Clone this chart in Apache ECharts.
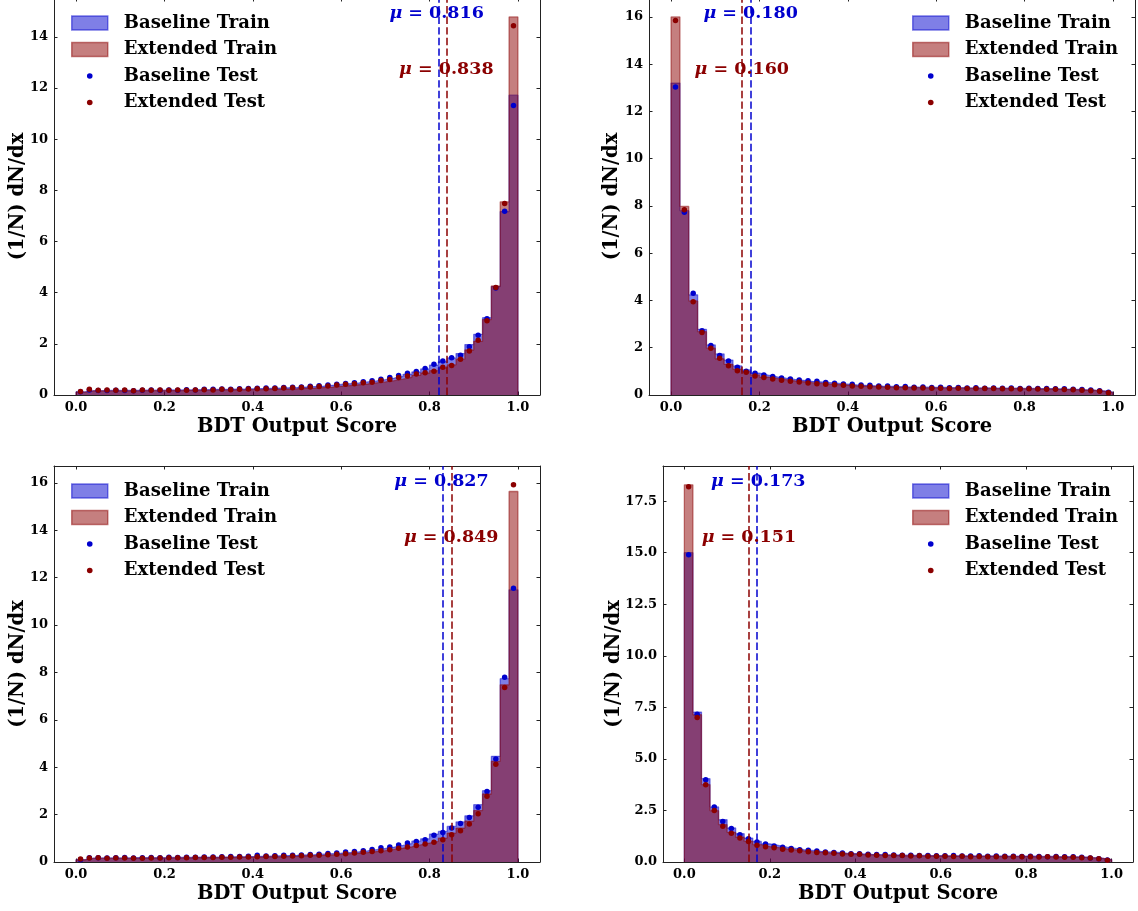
<!DOCTYPE html>
<html>
<head>
<meta charset="utf-8">
<script src="https://cdn.jsdelivr.net/npm/echarts@6/dist/echarts.min.js"></script>
<style>
html,body{margin:0;padding:0;background:#ffffff;}
#chart{width:1138px;height:911px;}
</style>
</head>
<body>
<div id="chart"></div>
<script>
// ---------------- DATA ----------------
const binEdges = [0.00,0.02,0.04,0.06,0.08,0.10,0.12,0.14,0.16,0.18,0.20,0.22,0.24,0.26,0.28,0.30,0.32,0.34,0.36,0.38,0.40,0.42,0.44,0.46,0.48,0.50,0.52,0.54,0.56,0.58,0.60,0.62,0.64,0.66,0.68,0.70,0.72,0.74,0.76,0.78,0.80,0.82,0.84,0.86,0.88,0.90,0.92,0.94,0.96,0.98,1.00];
const binCenters = [0.01,0.03,0.05,0.07,0.09,0.11,0.13,0.15,0.17,0.19,0.21,0.23,0.25,0.27,0.29,0.31,0.33,0.35,0.37,0.39,0.41,0.43,0.45,0.47,0.49,0.51,0.53,0.55,0.57,0.59,0.61,0.63,0.65,0.67,0.69,0.71,0.73,0.75,0.77,0.79,0.81,0.83,0.85,0.87,0.89,0.91,0.93,0.95,0.97,0.99];

const seriesNames = ['Baseline Train','Extended Train','Baseline Test','Extended Test'];

// Top-left panel
const tlBaseTrain = [0.12,0.17,0.17,0.18,0.18,0.18,0.18,0.19,0.19,0.19,
  0.20,0.20,0.20,0.21,0.21,0.22,0.22,0.23,0.23,0.24,
  0.25,0.26,0.27,0.28,0.29,0.31,0.33,0.35,0.38,0.41,
  0.44,0.47,0.51,0.55,0.60,0.66,0.73,0.81,0.90,1.02,
  1.17,1.30,1.45,1.62,1.97,2.37,3.02,4.24,7.17,11.72];
const tlExtTrain = [0.11,0.16,0.16,0.16,0.16,0.16,0.16,0.17,0.17,0.17,
  0.17,0.17,0.18,0.18,0.18,0.19,0.19,0.20,0.20,0.21,
  0.21,0.22,0.22,0.23,0.24,0.26,0.27,0.29,0.31,0.34,
  0.37,0.40,0.43,0.47,0.51,0.56,0.62,0.69,0.77,0.86,
  0.95,1.06,1.18,1.40,1.76,2.10,2.95,4.26,7.55,14.78];
const tlBaseTest = [0.13,0.20,0.18,0.18,0.19,0.18,0.17,0.19,0.20,0.19,
  0.20,0.19,0.21,0.20,0.22,0.22,0.23,0.22,0.24,0.25,
  0.26,0.27,0.27,0.29,0.30,0.31,0.34,0.36,0.39,0.42,
  0.45,0.48,0.52,0.56,0.62,0.68,0.76,0.85,0.92,1.04,
  1.20,1.33,1.46,1.55,1.89,2.34,2.98,4.18,7.18,11.32];
const tlExtTest = [0.14,0.22,0.19,0.20,0.19,0.20,0.17,0.20,0.19,0.20,
  0.19,0.20,0.19,0.20,0.21,0.20,0.22,0.21,0.22,0.23,
  0.24,0.24,0.25,0.27,0.28,0.29,0.31,0.33,0.35,0.39,
  0.42,0.44,0.48,0.50,0.57,0.61,0.68,0.74,0.82,0.87,
  0.93,1.08,1.15,1.40,1.72,2.14,2.90,4.20,7.49,14.43];
const tlMeans = [0.816, 0.838];
const tlYTicks = [0,2,4,6,8,10,12,14];
const tlYTickLabels = ['0','2','4','6','8','10','12','14'];

// Top-right panel
const trBaseTrain = [13.20,7.80,4.24,2.78,2.12,1.74,1.48,1.23,1.06,0.92,
  0.84,0.77,0.71,0.66,0.62,0.58,0.55,0.52,0.49,0.46,
  0.43,0.41,0.39,0.37,0.36,0.35,0.34,0.33,0.33,0.32,
  0.32,0.31,0.31,0.30,0.30,0.30,0.29,0.29,0.29,0.28,
  0.28,0.27,0.27,0.26,0.25,0.24,0.22,0.20,0.17,0.12];
const trExtTrain = [16.00,7.98,3.98,2.68,1.98,1.53,1.30,1.09,0.99,0.85,
  0.76,0.70,0.65,0.60,0.56,0.52,0.49,0.46,0.44,0.42,
  0.39,0.37,0.36,0.34,0.33,0.32,0.31,0.31,0.30,0.30,
  0.29,0.29,0.29,0.28,0.28,0.28,0.27,0.27,0.27,0.26,
  0.26,0.25,0.25,0.24,0.23,0.22,0.21,0.19,0.16,0.11];
const trBaseTest = [13.03,7.73,4.31,2.72,2.09,1.67,1.44,1.17,1.00,0.92,
  0.85,0.78,0.72,0.68,0.64,0.60,0.58,0.53,0.50,0.47,
  0.45,0.42,0.41,0.38,0.38,0.35,0.36,0.33,0.34,0.32,
  0.33,0.31,0.32,0.30,0.31,0.29,0.30,0.29,0.30,0.28,
  0.29,0.27,0.28,0.26,0.26,0.24,0.23,0.21,0.18,0.12];
const trExtTest = [15.85,7.84,3.95,2.64,1.98,1.55,1.24,1.03,0.96,0.80,
  0.74,0.68,0.62,0.58,0.55,0.51,0.48,0.46,0.43,0.41,
  0.38,0.37,0.35,0.34,0.33,0.31,0.31,0.30,0.30,0.29,
  0.29,0.28,0.29,0.28,0.27,0.27,0.27,0.26,0.26,0.25,
  0.26,0.25,0.24,0.24,0.23,0.22,0.20,0.18,0.16,0.10];
const trMeans = [0.180, 0.160];
const trYTicks = [0,2,4,6,8,10,12,14,16];
const trYTickLabels = ['0','2','4','6','8','10','12','14','16'];

// Bottom-left panel
const blBaseTrain = [0.10,0.16,0.17,0.17,0.17,0.17,0.18,0.18,0.18,0.18,
  0.19,0.19,0.19,0.20,0.20,0.21,0.21,0.22,0.22,0.23,
  0.24,0.25,0.26,0.27,0.28,0.30,0.31,0.33,0.35,0.37,
  0.40,0.43,0.47,0.52,0.57,0.63,0.70,0.78,0.88,0.98,
  1.18,1.29,1.50,1.69,1.95,2.42,3.01,4.46,7.74,11.49];
const blExtTrain = [0.09,0.15,0.15,0.15,0.15,0.15,0.16,0.16,0.16,0.16,
  0.17,0.17,0.17,0.18,0.18,0.18,0.19,0.19,0.20,0.20,
  0.21,0.22,0.22,0.23,0.24,0.26,0.27,0.28,0.30,0.32,
  0.35,0.37,0.40,0.44,0.48,0.53,0.58,0.64,0.72,0.80,
  0.87,1.01,1.22,1.43,1.72,2.17,2.87,4.25,7.48,15.64];
const blBaseTest = [0.10,0.18,0.18,0.17,0.18,0.19,0.17,0.18,0.19,0.18,
  0.20,0.19,0.20,0.20,0.21,0.21,0.22,0.23,0.23,0.24,
  0.28,0.25,0.26,0.28,0.28,0.30,0.32,0.33,0.36,0.38,
  0.42,0.44,0.48,0.53,0.60,0.63,0.72,0.80,0.87,0.94,
  1.13,1.25,1.43,1.62,1.88,2.31,2.98,4.35,7.80,11.56];
const blExtTest = [0.13,0.17,0.18,0.16,0.17,0.17,0.16,0.16,0.17,0.17,
  0.18,0.18,0.18,0.19,0.19,0.19,0.20,0.20,0.21,0.21,
  0.22,0.23,0.23,0.24,0.25,0.26,0.28,0.29,0.31,0.33,
  0.35,0.38,0.41,0.44,0.48,0.52,0.58,0.63,0.70,0.76,
  0.83,0.94,1.15,1.32,1.60,2.04,2.78,4.13,7.37,15.92];
const blMeans = [0.827, 0.849];
const blYTicks = [0,2,4,6,8,10,12,14,16];
const blYTickLabels = ['0','2','4','6','8','10','12','14','16'];

// Bottom-right panel
const brBaseTrain = [15.00,7.27,4.04,2.67,2.05,1.65,1.37,1.16,1.00,0.88,
  0.80,0.72,0.66,0.60,0.56,0.52,0.49,0.46,0.43,0.41,
  0.39,0.37,0.36,0.35,0.34,0.33,0.32,0.32,0.31,0.31,
  0.30,0.30,0.30,0.29,0.29,0.29,0.29,0.28,0.28,0.28,
  0.28,0.27,0.27,0.26,0.26,0.25,0.23,0.21,0.18,0.12];
const brExtTrain = [18.29,7.14,3.75,2.49,1.81,1.44,1.20,1.00,0.84,0.75,
  0.70,0.64,0.59,0.54,0.50,0.47,0.44,0.42,0.40,0.38,
  0.36,0.35,0.33,0.32,0.31,0.30,0.30,0.29,0.29,0.28,
  0.28,0.28,0.27,0.27,0.27,0.27,0.26,0.26,0.26,0.26,
  0.25,0.25,0.25,0.24,0.24,0.23,0.22,0.20,0.17,0.11];
const brBaseTest = [14.90,7.17,3.99,2.67,1.97,1.62,1.32,1.13,0.97,0.87,
  0.78,0.71,0.65,0.59,0.57,0.53,0.48,0.46,0.44,0.40,
  0.40,0.37,0.36,0.36,0.34,0.33,0.33,0.31,0.31,0.30,
  0.30,0.31,0.29,0.29,0.30,0.28,0.29,0.28,0.28,0.27,
  0.28,0.27,0.26,0.27,0.26,0.25,0.23,0.20,0.16,0.10];
const brExtTest = [18.20,7.01,3.75,2.50,1.73,1.39,1.16,1.00,0.81,0.74,
  0.69,0.62,0.58,0.54,0.50,0.46,0.45,0.42,0.39,0.37,
  0.37,0.34,0.33,0.32,0.31,0.31,0.29,0.30,0.28,0.28,
  0.28,0.27,0.28,0.26,0.27,0.26,0.26,0.26,0.25,0.26,
  0.25,0.24,0.25,0.24,0.23,0.23,0.21,0.19,0.16,0.08];
const brMeans = [0.173, 0.151];
const brYTicks = [0,2.5,5,7.5,10,12.5,15,17.5];
const brYTickLabels = ['0.0','2.5','5.0','7.5','10.0','12.5','15.0','17.5'];

const xTicks = [0,0.2,0.4,0.6,0.8,1.0];
const xTickLabels = ['0.0','0.2','0.4','0.6','0.8','1.0'];

// ---------------- STYLE / LAYOUT ----------------
const FONT = 'DejaVu Serif';
const BLUE = '#0000CD';
const RED = '#8B0000';
const BLUE_FILL = 'rgba(0,0,205,0.5)';
const RED_FILL = 'rgba(139,0,0,0.5)';
const BLUE_LINE = 'rgba(0,0,205,0.75)';
const RED_LINE = 'rgba(139,0,0,0.75)';
const FRAME = '#222';

const panels = [
  {grid:{left:54, top:-2, width:486, height:397}, bt:tlBaseTrain, et:tlExtTrain, bs:tlBaseTest, es:tlExtTest, means:tlMeans, yt:tlYTicks, yl:tlYTickLabels, legendLeft:71, legendTop:14, yNameGap:26},
  {grid:{left:649, top:-2, width:486, height:397}, bt:trBaseTrain, et:trExtTrain, bs:trBaseTest, es:trExtTest, means:trMeans, yt:trYTicks, yl:trYTickLabels, legendLeft:912, legendTop:14, yNameGap:27},
  {grid:{left:54, top:466, width:486, height:396}, bt:blBaseTrain, et:blExtTrain, bs:blBaseTest, es:blExtTest, means:blMeans, yt:blYTicks, yl:blYTickLabels, legendLeft:71, legendTop:482, yNameGap:26},
  {grid:{left:663, top:466, width:470, height:396}, bt:brBaseTrain, et:brExtTrain, bs:brBaseTest, es:brExtTest, means:brMeans, yt:brYTicks, yl:brYTickLabels, legendLeft:912, legendTop:482, yNameGap:39}
];

function stepPoints(edges, h) {
  const pts = [[edges[0], 0]];
  for (let i = 0; i < h.length; i++) pts.push([edges[i], h[i]]);
  pts.push([edges[edges.length - 1], h[h.length - 1]]);
  pts.push([edges[edges.length - 1], 0]);
  return pts;
}
function dots(centers, v) { return centers.map((c, i) => [c, v[i]]); }
function labelFor(ticks, labels) {
  return function (v) {
    for (let i = 0; i < ticks.length; i++) if (Math.abs(ticks[i] - v) < 1e-9) return labels[i];
    return '';
  };
}

const patchIcon = 'path://M0,0H36V14H0Z M47,14';
const dotIcon = 'path://M0,0 M47,14 M15.2,7a2.8,2.8 0 1,0 5.6,0a2.8,2.8 0 1,0 -5.6,0Z';

const option = {
  animation: false,
  backgroundColor: '#ffffff',
  textStyle: {fontFamily: FONT},
  grid: [], xAxis: [], yAxis: [], series: [], legend: []
};

panels.forEach((p, k) => {
  const ymax = 1.05 * Math.max(...p.bt, ...p.et, ...p.bs, ...p.es);
  option.grid.push(Object.assign({containLabel: false, outerBoundsMode: 'none', show: false}, p.grid));
  const tickStyle = {inside: true, length: 3.5, lineStyle: {color: FRAME, width: 1}};
  const lineStyle = {show: true, onZero: false, lineStyle: {color: FRAME, width: 1}};
  const labStyle = {fontFamily: FONT, fontWeight: 'bold', fontSize: 13, color: '#000'};
  option.xAxis.push({
    type: 'value', gridIndex: k, position: 'bottom', min: -0.05, max: 1.05,
    axisLine: lineStyle, splitLine: {show: false},
    axisTick: Object.assign({show: true, customValues: xTicks}, tickStyle),
    axisLabel: Object.assign({show: true, customValues: xTicks, formatter: labelFor(xTicks, xTickLabels), margin: 6}, labStyle),
    name: 'BDT Output Score', nameLocation: 'middle', nameGap: 22, nameMoveOverlap: false,
    nameTextStyle: {fontFamily: FONT, fontWeight: 'bold', fontSize: 19.5, color: '#000'}
  });
  option.xAxis.push({
    type: 'value', gridIndex: k, position: 'top', min: -0.05, max: 1.05,
    axisLine: lineStyle, splitLine: {show: false},
    axisTick: Object.assign({show: true, customValues: xTicks}, tickStyle),
    axisLabel: {show: false}
  });
  option.yAxis.push({
    type: 'value', gridIndex: k, position: 'left', min: 0, max: ymax,
    axisLine: lineStyle, splitLine: {show: false},
    axisTick: Object.assign({show: true, customValues: p.yt}, tickStyle),
    axisLabel: Object.assign({show: true, customValues: p.yt, formatter: labelFor(p.yt, p.yl), margin: 6}, labStyle),
    name: '(1/N) dN/dx', nameLocation: 'middle', nameGap: p.yNameGap, nameRotate: 90, nameMoveOverlap: false,
    nameTextStyle: {fontFamily: FONT, fontWeight: 'bold', fontSize: 19.5, color: '#000'}
  });
  option.yAxis.push({
    type: 'value', gridIndex: k, position: 'right', min: 0, max: ymax,
    axisLine: lineStyle, splitLine: {show: false},
    axisTick: Object.assign({show: true, customValues: p.yt}, tickStyle),
    axisLabel: {show: false}
  });
  const xi = 2 * k, yi = 2 * k;
  option.series.push({
    name: seriesNames[0], type: 'line', xAxisIndex: xi, yAxisIndex: yi, step: 'end',
    data: stepPoints(binEdges, p.bt), symbol: 'none', silent: true, z: 2,
    lineStyle: {color: BLUE_FILL, width: 1.3}, itemStyle: {color: BLUE_FILL},
    areaStyle: {color: BLUE_FILL, opacity: 1, origin: 'start'}
  });
  option.series.push({
    name: seriesNames[1], type: 'line', xAxisIndex: xi, yAxisIndex: yi, step: 'end',
    data: stepPoints(binEdges, p.et), symbol: 'none', silent: true, z: 3,
    lineStyle: {color: RED_FILL, width: 1.3}, itemStyle: {color: RED_FILL},
    areaStyle: {color: RED_FILL, opacity: 1, origin: 'start'}
  });
  option.series.push({
    name: seriesNames[2], type: 'scatter', xAxisIndex: xi, yAxisIndex: yi,
    data: dots(binCenters, p.bs), symbol: 'circle', symbolSize: 5.5, silent: true, z: 4,
    itemStyle: {color: BLUE, opacity: 1}
  });
  option.series.push({
    name: seriesNames[3], type: 'scatter', xAxisIndex: xi, yAxisIndex: yi,
    data: dots(binCenters, p.es), symbol: 'circle', symbolSize: 5.5, silent: true, z: 5,
    itemStyle: {color: RED, opacity: 1}
  });
  // mean lines and labels
  const richFor = (c) => ({
    m: {color: c, fontFamily: FONT, fontWeight: 'bold', fontStyle: 'italic', fontSize: 17.5},
    v: {color: c, fontFamily: FONT, fontWeight: 'bold', fontSize: 17.5}
  });
  option.series.push({
    name: 'mean', type: 'scatter', xAxisIndex: xi, yAxisIndex: yi, silent: true, z: 6,
    symbolSize: 0, itemStyle: {opacity: 1, color: '#000'},
    data: [
      {value: [p.means[0], ymax * 0.960], label: {show: true, position: 'inside', formatter: '{m|μ}{v| = ' + p.means[0].toFixed(3) + '}', rich: richFor(BLUE)}},
      {value: [p.means[1], ymax * 0.819], label: {show: true, position: 'inside', formatter: '{m|μ}{v| = ' + p.means[1].toFixed(3) + '}', rich: richFor(RED)}}
    ],
    markLine: {
      silent: true, symbol: ['none', 'none'], label: {show: false}, animation: false,
      data: [
        {xAxis: p.means[0], lineStyle: {color: BLUE_LINE, width: 2, type: [7.4, 3.2], opacity: 1}},
        {xAxis: p.means[1], lineStyle: {color: RED_LINE, width: 2, type: [7.4, 3.2], opacity: 1}}
      ]
    }
  });
  option.legend.push({
    orient: 'vertical', left: p.legendLeft, top: p.legendTop, padding: 0,
    itemWidth: 47, itemHeight: 14, itemGap: 8.5, selectedMode: false,
    textStyle: {fontFamily: FONT, fontWeight: 'bold', fontSize: 18, color: '#000'},
    data: [
      {name: seriesNames[0], icon: patchIcon, itemStyle: {color: BLUE_FILL, borderColor: BLUE_FILL, borderWidth: 1.5, opacity: 1}},
      {name: seriesNames[1], icon: patchIcon, itemStyle: {color: RED_FILL, borderColor: RED_FILL, borderWidth: 1.5, opacity: 1}},
      {name: seriesNames[2], icon: dotIcon, itemStyle: {color: BLUE, borderWidth: 0, opacity: 1}},
      {name: seriesNames[3], icon: dotIcon, itemStyle: {color: RED, borderWidth: 0, opacity: 1}}
    ]
  });
});

const chart = echarts.init(document.getElementById('chart'), null, {renderer: 'canvas'});
chart.setOption(option);
</script>
</body>
</html>
